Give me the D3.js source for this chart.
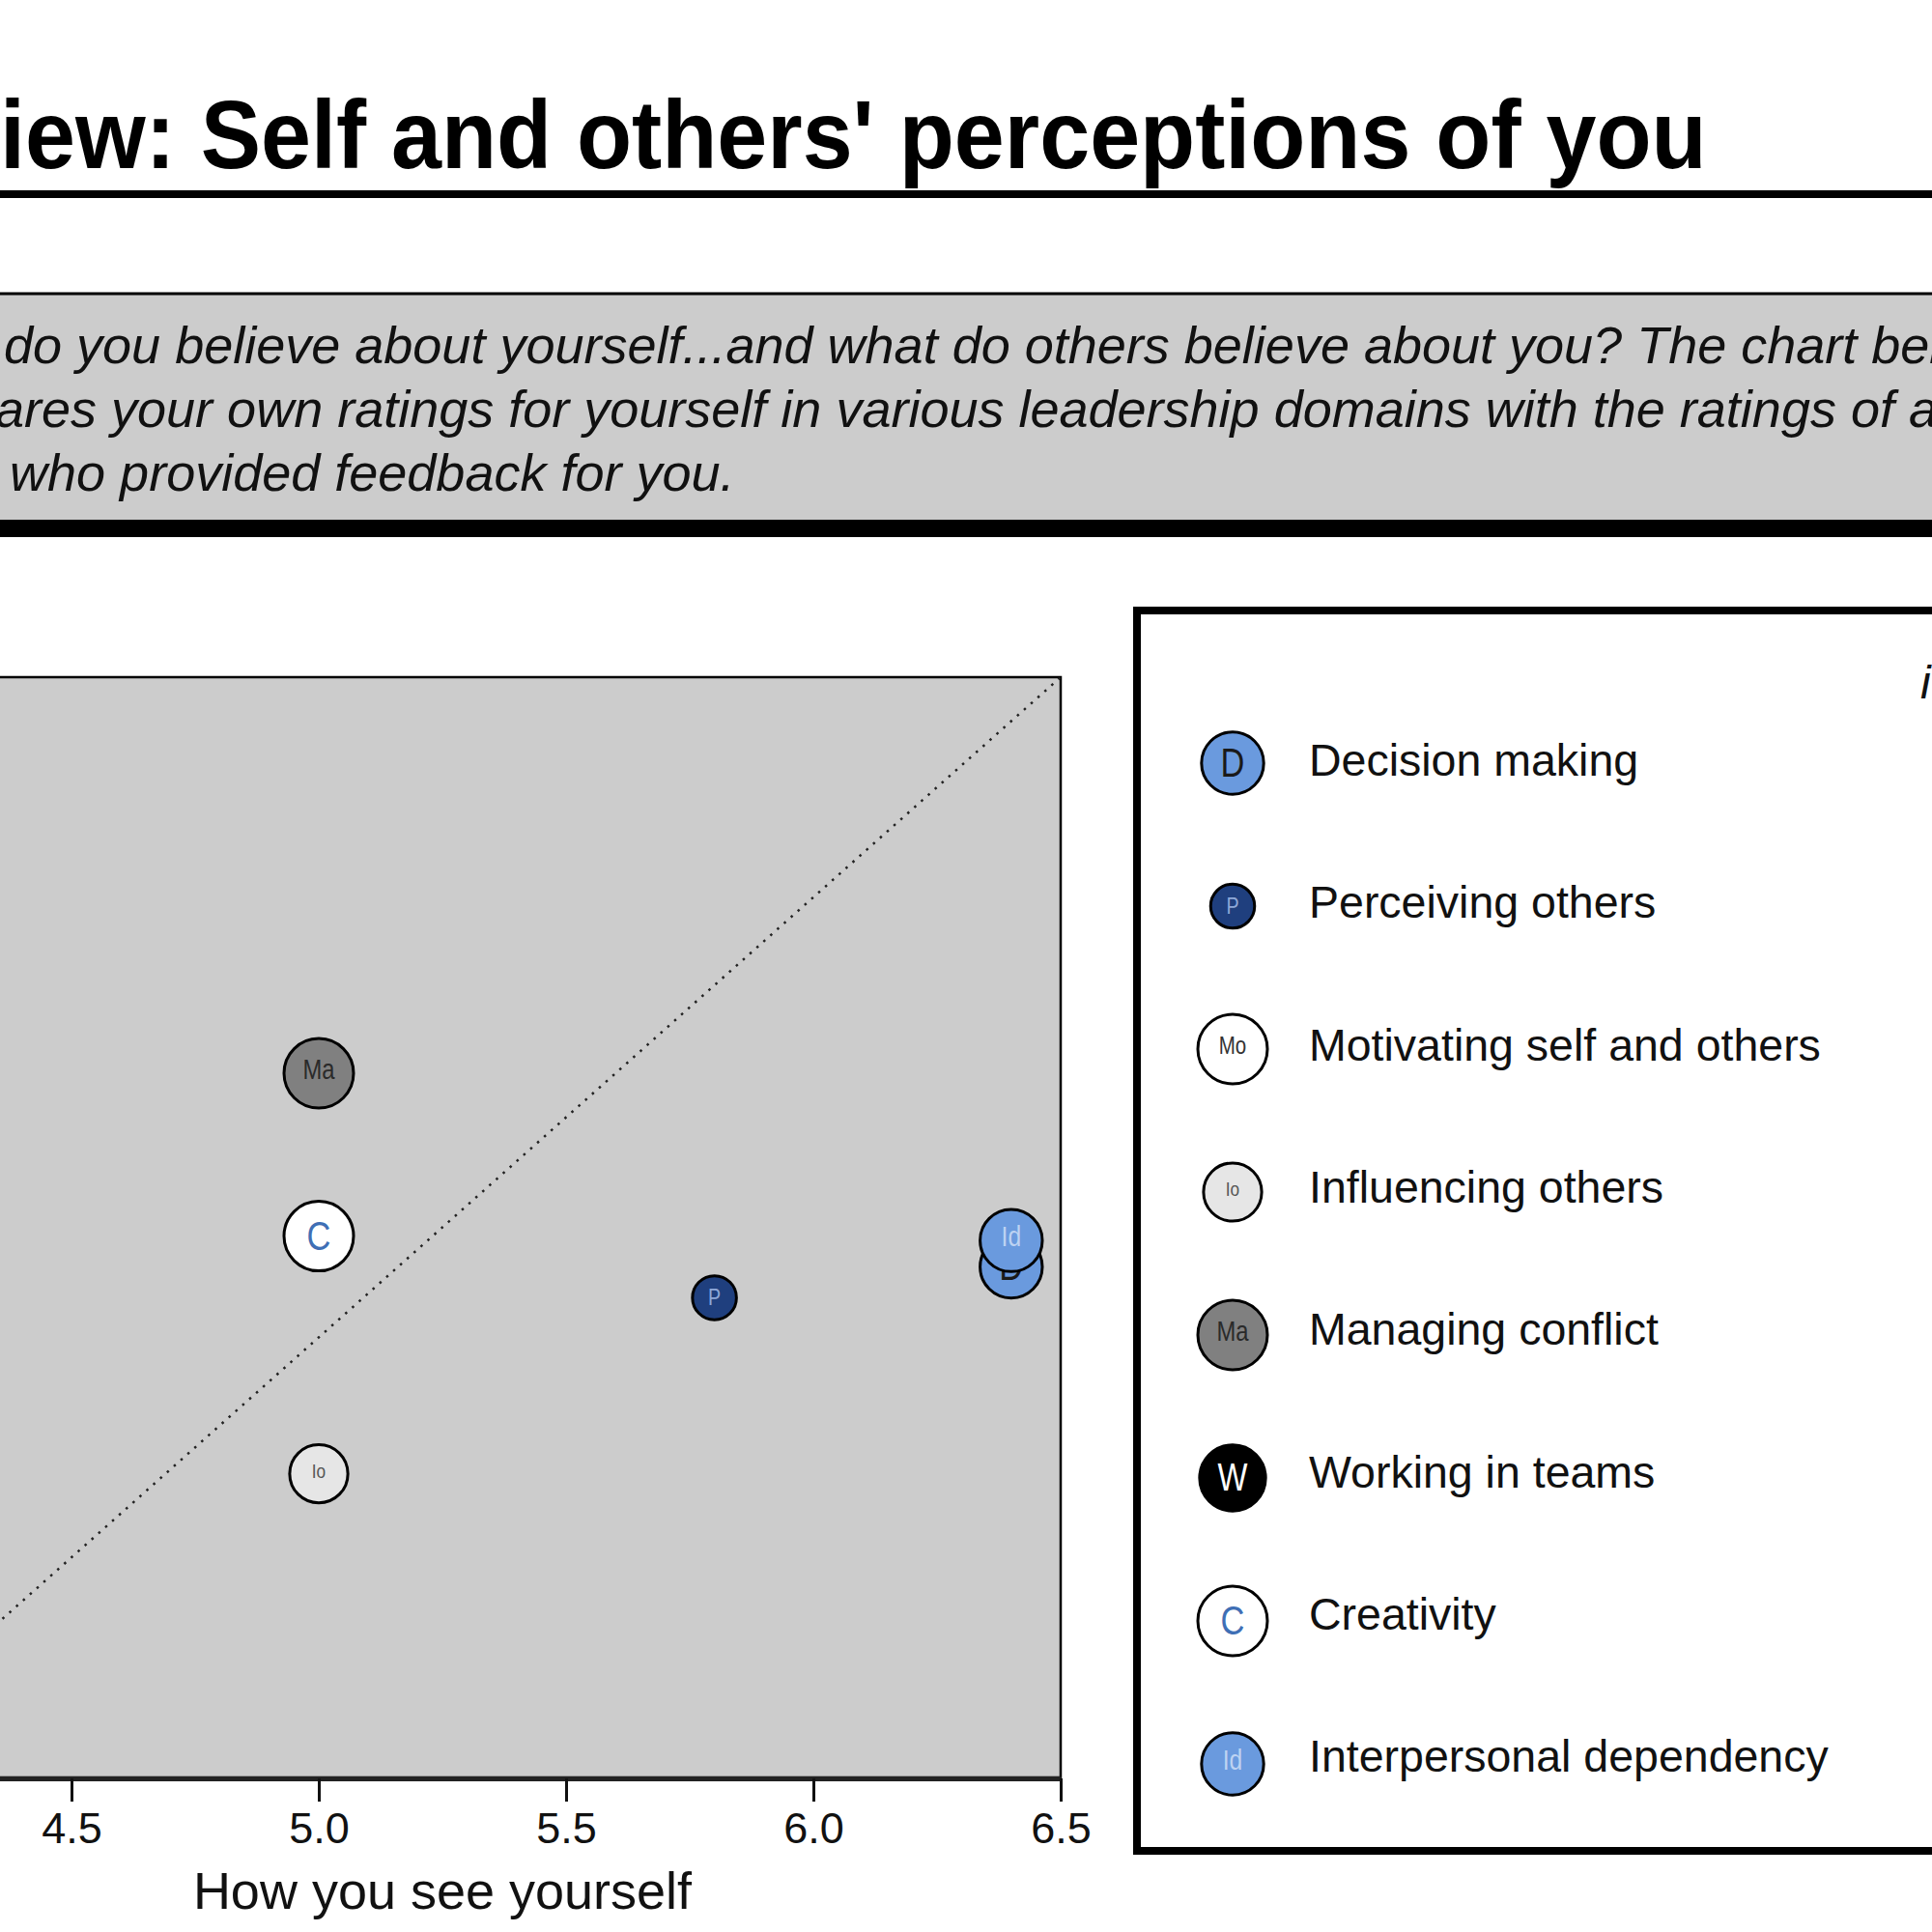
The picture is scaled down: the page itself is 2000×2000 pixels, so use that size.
<!DOCTYPE html>
<html>
  <head>
    <meta charset="utf-8">
    <title>Self and others' perceptions</title>
    <script src="https://d3js.org/d3.v7.min.js"></script>
    <style>
      body { margin: 0; background: #fff; }
      text { font-family: "Liberation Sans", Arial, Helvetica, sans-serif; }
    </style>
  </head>
  <body>
    <script>
      // chart data
      var keys = ["D", "P", "Mo", "Io", "Ma", "W", "C", "Id"];
      var names = ["Decision making", "Perceiving others", "Motivating self and others",
                   "Influencing others", "Managing conflict", "Working in teams",
                   "Creativity", "Interpersonal dependency"];
      var selfScores = [6.4, 5.8, 4.2, 5.0, 5.0, 4.25, 5.0, 6.4];
      var othersScores = [5.16, 5.09, 5.5, 4.69, 5.6, 5.3, 5.23, 5.22];
      var weights = [8, 4, 10, 7, 10, 9, 10, 8];
      var xTicks = [4.5, 5.0, 5.5, 6.0, 6.5];

      var titleText = "Overview: Self and others' perceptions of you";
      var introLines = [
        "What do you believe about yourself...and what do others believe about you? The chart below",
        "compares your own ratings for yourself in various leadership domains with the ratings of all",
        "those who provided feedback for you."
      ];

      // marker styles
      var fills = {D: "#6a9ade", P: "#1f3f7e", Mo: "#ffffff", Io: "#e6e6e6",
                   Ma: "#808080", W: "#000000", C: "#ffffff", Id: "#6a9ade"};
      var labelColors = {D: "#1a1a1a", P: "#8ea8d8", Mo: "#333333", Io: "#555555",
                         Ma: "#2a2a2a", W: "#ffffff", C: "#3f6fb5", Id: "#bed3f2"};
      var labelSizes = {D: 42, P: 24, Mo: 25, Io: 21, Ma: 29, W: 40, C: 42, Id: 30};

      var W = 2000, H = 2000;
      var svg = d3.select("body").append("svg")
                  .attr("width", W).attr("height", H);

      svg.append("rect").attr("width", W).attr("height", H).attr("fill", "#fff");

      // title, squeezed so the visible part ends where the reference does
      var title = svg.append("text")
                  .attr("font-size", 100)
                  .attr("font-weight", "bold")
                  .attr("fill", "#000")
                  .text(titleText);
      var prefix = titleText.slice(0, titleText.indexOf("iew:"));
      var tmp = svg.append("text").attr("font-size", 100).attr("font-weight", "bold").text(prefix);
      var prefixW = tmp.node().getComputedTextLength();
      tmp.remove();
      var visW = title.node().getComputedTextLength() - prefixW;
      var sx = 1767 / visW;
      title.attr("x", -prefixW)
           .attr("transform", "translate(0,174) scale(" + sx + ",1)");

      svg.append("line")
         .attr("x1", 0).attr("x2", W).attr("y1", 201).attr("y2", 201)
         .attr("stroke", "#000").attr("stroke-width", 8);

      // intro box
      svg.append("rect")
         .attr("x", -20).attr("y", 304).attr("width", W + 40).attr("height", 240)
         .attr("fill", "#cccccc").attr("stroke", "#000").attr("stroke-width", 3);
      svg.append("rect")
         .attr("x", -20).attr("y", 538).attr("width", W + 40).attr("height", 18)
         .attr("fill", "#000");

      var tmp2 = svg.append("text").attr("font-size", 54).attr("font-style", "italic").text("What ");
      var introX = -tmp2.node().getComputedTextLength() - 11;
      tmp2.remove();
      svg.append("g").selectAll("text")
         .data(introLines)
         .enter().append("text")
         .attr("x", introX)
         .attr("y", function(d, i) { return 376 + i * 66; })
         .attr("font-size", 54)
         .attr("font-style", "italic")
         .attr("fill", "#111")
         .text(function(d) { return d; });

      // scatter
      var x = d3.scaleLinear().domain([4, 6.5]).range([-182, 1098]);
      var y = d3.scaleLinear().domain([4, 6.5]).range([1840, 701]);
      var r = d3.scaleSqrt().domain([0, 10]).range([0, 36]);

      svg.append("rect")
         .attr("x", x(4)).attr("y", y(6.5))
         .attr("width", x(6.5) - x(4)).attr("height", y(4) - y(6.5))
         .attr("fill", "#cccccc").attr("stroke", "#000").attr("stroke-width", 2.5);

      svg.append("line")
         .attr("x1", x(4)).attr("y1", y(4)).attr("x2", x(6.5)).attr("y2", y(6.5))
         .attr("stroke", "#222").attr("stroke-width", 2.5)
         .attr("stroke-dasharray", "2.5,7");

      var points = keys.map(function(k, i) {
        return {key: k, name: names[i], sx: selfScores[i], oy: othersScores[i], w: weights[i]};
      });

      function drawMarker(sel) {
        sel.append("circle")
           .attr("r", function(d) { return r(d.w); })
           .attr("fill", function(d) { return fills[d.key]; })
           .attr("stroke", "#000").attr("stroke-width", 3);
        sel.append("text")
           .attr("text-anchor", "middle")
           .attr("dominant-baseline", "central")
           .attr("transform", "scale(0.82,1)")
           .attr("dy", function(d) { return d.key.length > 1 ? "-0.15em" : "-0.02em"; })
           .attr("font-size", function(d) { return labelSizes[d.key]; })
           .attr("fill", function(d) { return labelColors[d.key]; })
           .text(function(d) { return d.key; });
      }

      svg.append("clipPath").attr("id", "plotclip")
         .append("rect").attr("x", x(4)).attr("y", y(6.5))
         .attr("width", x(6.5) - x(4)).attr("height", y(4) - y(6.5));

      svg.append("g").attr("clip-path", "url(#plotclip)")
         .selectAll(".pt")
         .data(points)
         .enter().append("g")
         .attr("class", "pt")
         .attr("transform", function(d) { return "translate(" + x(d.sx) + "," + y(d.oy) + ")"; })
         .call(drawMarker);

      var xAxis = svg.append("g")
         .attr("transform", "translate(0," + 1841 + ")")
         .call(d3.axisBottom(x).tickValues(xTicks).tickFormat(d3.format(".1f"))
               .tickSize(24).tickSizeOuter(0).tickPadding(11));
      xAxis.select(".domain").attr("stroke", "#222").attr("stroke-width", 5);
      xAxis.selectAll(".tick line").attr("stroke", "#111").attr("stroke-width", 3);
      xAxis.selectAll(".tick text")
           .attr("font-size", 45).attr("fill", "#111")
           .attr("font-family", "Liberation Sans, Arial, sans-serif");

      svg.append("text")
         .attr("x", (x(4) + x(6.5)) / 2).attr("y", 1976)
         .attr("text-anchor", "middle")
         .attr("font-size", 54).attr("fill", "#111")
         .text("How you see yourself");

      // legend
      svg.append("rect")
         .attr("x", 1177).attr("y", 632).attr("width", 1000).attr("height", 1284)
         .attr("fill", "#fff").attr("stroke", "#000").attr("stroke-width", 8);

      svg.append("text")
         .attr("x", 1988).attr("y", 723)
         .attr("font-size", 48).attr("font-style", "italic").attr("fill", "#111")
         .text("i");

      var legend = svg.append("g").selectAll(".lg")
         .data(points)
         .enter().append("g")
         .attr("class", "lg");

      legend.append("g")
         .attr("transform", function(d, i) { return "translate(1276," + (790 + i * 148) + ")"; })
         .call(drawMarker);

      legend.append("text")
         .attr("x", 1355)
         .attr("y", function(d, i) { return 803 + i * 147.3; })
         .attr("font-size", 46.5)
         .attr("fill", "#111")
         .text(function(d) { return d.name; });
    </script>
  </body>
</html>
